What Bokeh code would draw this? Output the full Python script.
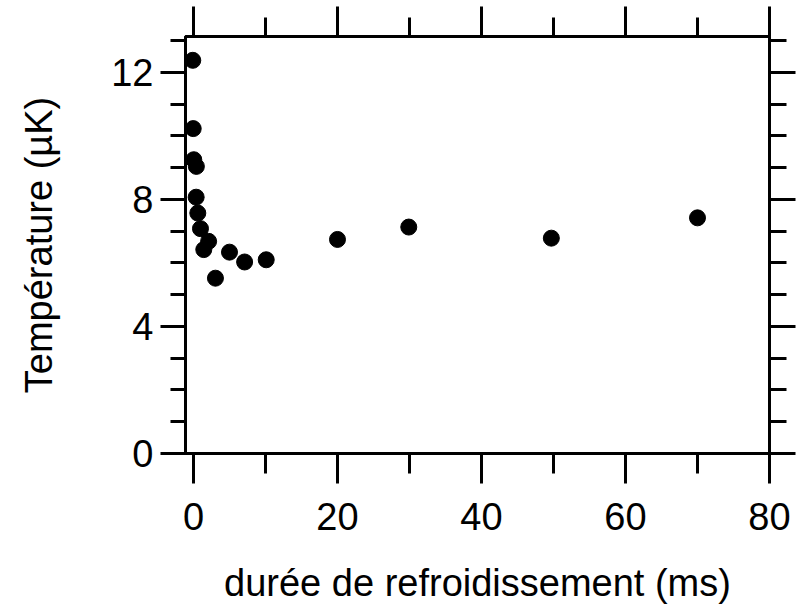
from bokeh.plotting import figure
from bokeh.models import Range1d, LinearAxis, SingleIntervalTicker, CustomJSTickFormatter
from bokeh.embed import file_html
from bokeh.resources import INLINE

# data
duree_ms = [-0.1, -0.04, 0.04, 0.4, 0.37, 0.6, 0.97, 1.43, 2.1, 3.05, 5.0, 7.1, 10.1, 20.0, 29.9, 49.7, 70.0]
temperature_uK = [12.38, 10.23, 9.25, 9.04, 8.07, 7.57, 7.08, 6.42, 6.68, 5.52, 6.34, 6.03, 6.10, 6.74, 7.13, 6.78, 7.42]

x_label = "durée de refroidissement (ms)"
y_label = "Température (µK)"

FONT = "Liberation Sans"

p = figure(width=797, height=611, output_backend="svg", toolbar_location=None,
           x_range=Range1d(-1.11, 80), y_range=Range1d(0, 13.13),
           x_axis_location=None, y_axis_location=None,
           min_border_left=185, min_border_right=28, min_border_top=36, min_border_bottom=158)
p.grid.visible = False
p.outline_line_color = "black"
p.outline_line_width = 3
p.background_fill_color = "white"
p.border_fill_color = "white"

def style(ax, major_out, minor_out, labels=True):
    ax.axis_line_width = 3
    ax.axis_line_color = "black"
    ax.major_tick_line_width = 3
    ax.minor_tick_line_width = 3
    ax.major_tick_in = 0
    ax.minor_tick_in = 0
    ax.major_tick_out = major_out
    ax.minor_tick_out = minor_out
    ax.major_label_text_font = FONT
    ax.major_label_text_font_size = "38px"
    ax.major_label_text_color = "black"
    ax.axis_label_text_font = FONT
    ax.axis_label_text_font_style = "normal"
    ax.axis_label_text_color = "black"
    if not labels:
        ax.formatter = CustomJSTickFormatter(code="return ''")
        ax.major_label_standoff = 0

bottom = LinearAxis(ticker=SingleIntervalTicker(interval=20, num_minor_ticks=2), axis_label=x_label)
style(bottom, 30, 20)
bottom.axis_label_text_font_size = "38px"
bottom.major_label_standoff = 19
bottom.axis_label_standoff = 29
p.add_layout(bottom, "below")

top = LinearAxis(ticker=SingleIntervalTicker(interval=20, num_minor_ticks=2))
style(top, 30, 19, labels=False)
p.add_layout(top, "above")

left = LinearAxis(ticker=SingleIntervalTicker(interval=4, num_minor_ticks=4), axis_label=y_label)
style(left, 25, 15)
left.axis_label_text_font_size = "38px"
left.major_label_standoff = 7
left.axis_label_standoff = 48
p.add_layout(left, "left")

right = LinearAxis(ticker=SingleIntervalTicker(interval=4, num_minor_ticks=4))
style(right, 26, 17, labels=False)
p.add_layout(right, "right")

p.scatter(duree_ms, temperature_uK, size=16, color="black")

open("out.html", "w").write(file_html(p, INLINE))
